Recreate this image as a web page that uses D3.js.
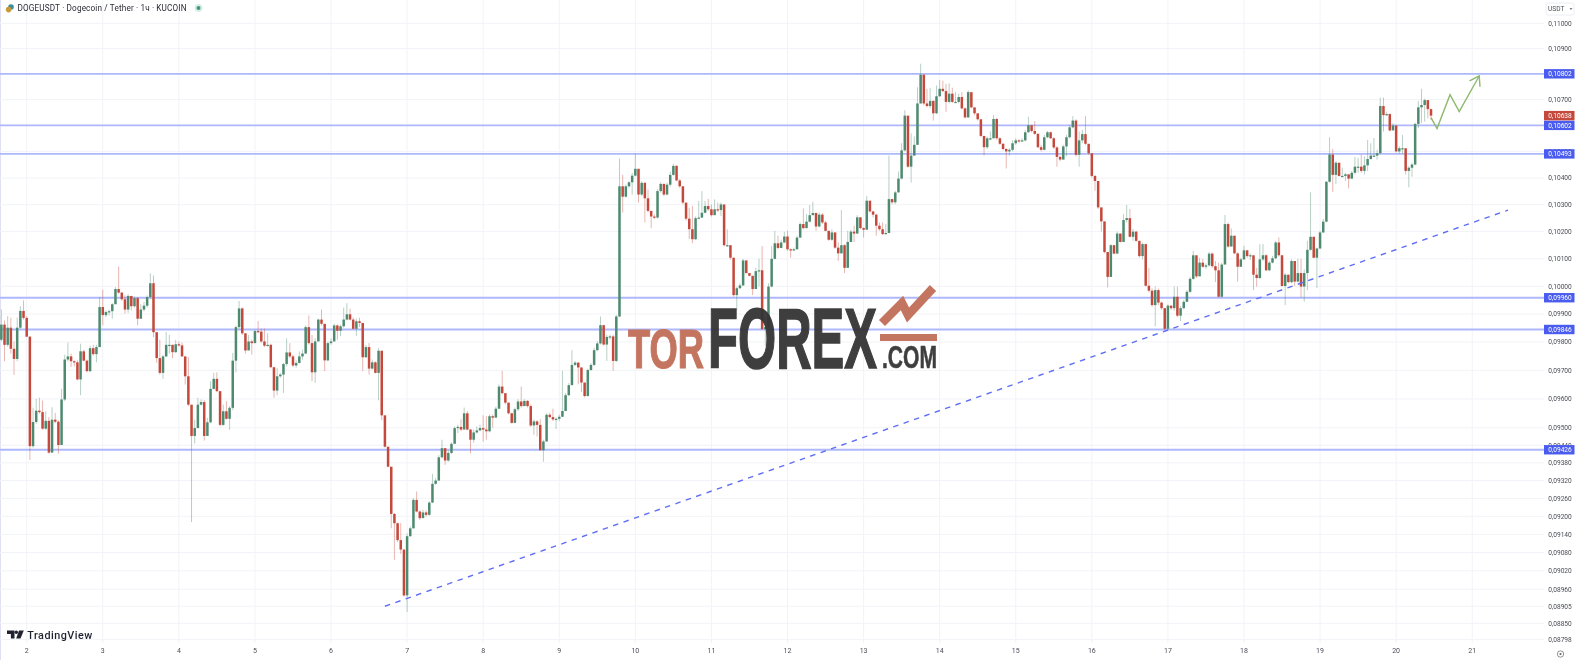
<!DOCTYPE html>
<html><head><meta charset="utf-8">
<style>html,body{margin:0;padding:0;background:#fff;overflow:hidden}svg{display:block;filter:blur(.5px)}text{font-family:Roboto,"Liberation Sans",sans-serif}</style>
<script src="https://cdn.jsdelivr.net/npm/d3@7/dist/d3.min.js"></script>
</head><body><svg id="c" width="1576" height="660"></svg>
<script>
// prices are in units of 0.00001 USDT; one candle per hour, first candle 8 h before day 2 00:00
const firstOpen = 9808;
const firstHour = -8;
const closes = [
9862,9790,9851,9776,9740,9851,9911,9886,9819,9437,9520,9559,9554,9497,9524,9415,9528,9521,9441,9598,
9738,9749,9732,9728,9668,9767,9734,9697,9778,9757,9782,9925,9896,9907,9910,9935,9990,9977,9953,9916,
9965,9928,9957,9883,9916,9930,9961,10011,9835,9743,9691,9749,9790,9790,9764,9792,9788,9749,9679,9580,
9472,9499,9580,9589,9472,9519,9635,9670,9627,9510,9557,9531,9569,9734,9853,9920,9831,9770,9802,9796,
9839,9837,9802,9787,9790,9711,9629,9679,9685,9722,9763,9749,9717,9726,9749,9759,9853,9796,9693,9802,
9880,9865,9735,9796,9802,9859,9840,9856,9880,9899,9880,9847,9874,9868,9746,9782,9706,9728,9691,9769,
9543,9435,9367,
9208,9177,9121,9090,8940,9134,9160,9255,9216,9194,9213,9205,9246,9309,9320,9399,9430,9388,9414,9445,
9499,9503,9494,9550,9494,9459,9484,9491,9499,9494,9488,9540,9535,9566,9643,9620,9587,9550,9517,9564,
9591,9575,9593,9575,9508,9522,9510,9423,9453,9545,9537,9529,9531,9538,9558,9613,9648,9719,9727,9710,
9657,9610,9701,9719,9771,9795,9860,9791,9818,9820,9733,9891,10369,10330,10369,10384,10409,10435,10338,10382,
10324,10277,10256,10252,10351,10378,10338,10375,10412,10446,10391,10369,10308,10248,10209,10172,10250,10252,10270,10295,
10283,10261,10283,10280,10301,10150,10150,10104,9968,9993,10003,10094,10048,10038,9990,10055,10058,9846,
9853,9999,10100,10157,10140,10160,10182,10135,10131,10135,10178,10228,10213,10237,10261,10269,10219,10263,10234,10203,
10170,10197,10141,10120,10150,10067,10162,10200,10193,10253,10213,10207,10315,10275,10263,10222,10209,10191,10195,10321,
10309,10346,10398,10505,10638,10443,10485,10526,10685,10797,10685,10675,10695,10647,10713,10742,10733,10691,10723,10691,
10691,10710,10666,10631,10729,10670,10647,10624,10560,10517,10551,10551,10625,10551,10530,10510,10501,10507,10532,10543,
10539,10543,10574,10601,10579,10568,10517,10507,10555,10574,10551,10516,10480,10470,10520,10555,10593,10619,10488,10543,
10567,10530,10494,10408,10389,10290,
10238,10125,10034,10150,10119,10193,10162,10243,10250,10181,10200,10166,10110,10154,10002,9984,9932,9986,9941,9921,
9847,9930,9921,9962,9894,9921,9944,9980,10027,10113,10036,10086,10071,10076,10119,10073,10058,9962,10079,10228,
10145,10185,10120,10071,10098,10131,10110,10113,10042,10030,10098,10113,10058,10086,10102,10160,10113,10001,10042,10015,
10092,10017,10048,9999,10048,10133,10181,10104,10138,10197,10237,10386,10489,10412,10458,10408,10408,10414,10398,10420,
10443,10443,10427,10448,10472,10485,10485,10494,10675,10640,10644,10581,10600,10501,10513,10513,10427,10439,10451,10606,
10670,10679,10698,10663,10638];
const highs = [
9916,9877,9892,9887,9802,9887,9928,9949,9892,9821,9569,9600,9604,9594,9557,9537,9571,9551,9526,9635,
9755,9798,9759,9735,9735,9794,9773,9738,9787,9790,9790,9961,9987,9913,9916,9939,9997,10072,9979,9967,
9971,9965,9963,9961,9935,9943,9967,10047,10039,9831,9808,9755,9836,9825,9790,9808,9802,9798,9749,9747,
9577,9528,9604,9598,9596,9534,9662,9691,9693,9627,9580,9592,9575,9761,9859,9947,9923,9831,9825,9808,
9844,9875,9848,9848,9831,9794,9708,9708,9691,9726,9813,9796,9755,9735,9767,9773,9859,9895,9825,9813,
9883,9916,9863,9802,9813,9865,9863,9862,9923,9939,9919,9887,9883,9887,9865,9790,9796,9738,9732,9778,
9769,9536,9432,
9362,9211,9179,9177,9082,9143,9166,9261,9283,9220,9222,9220,9250,9343,9328,9407,9459,9430,9423,9450,
9505,9511,9529,9570,9558,9496,9494,9505,9511,9543,9540,9546,9546,9573,9651,9698,9620,9587,9552,9570,
9599,9643,9599,9596,9581,9529,9526,9529,9459,9550,9552,9566,9535,9546,9698,9620,9655,9771,9733,9729,
9710,9657,9706,9725,9780,9803,9891,9861,9826,9826,9826,9897,10474,10412,10375,10388,10419,10493,10433,10388,
10384,10357,10268,10264,10359,10384,10379,10382,10425,10453,10449,10396,10369,10301,10289,10295,10256,10314,10351,10314,
10322,10301,10320,10308,10308,10298,10209,10150,10104,9999,10011,10100,10095,10048,10038,10067,10100,10147,
9860,10011,10147,10203,10185,10170,10199,10203,10138,10141,10185,10234,10286,10265,10299,10311,10271,10271,10269,10240,
10203,10209,10197,10160,10280,10154,10203,10207,10222,10261,10253,10216,10333,10315,10275,10265,10234,10234,10228,10485,
10321,10352,10425,10532,10659,10634,10570,10558,10748,10840,10797,10742,10746,10697,10755,10776,10774,10761,10763,10746,
10729,10723,10729,10670,10736,10723,10666,10640,10619,10560,10558,10577,10640,10630,10555,10532,10513,10513,10545,10551,
10548,10551,10583,10634,10602,10617,10570,10526,10564,10579,10577,10555,10520,10485,10526,10564,10602,10636,10624,10577,
10583,10636,10529,10491,10411,10383,
10284,10234,10117,10154,10150,10200,10191,10265,10299,10284,10210,10203,10166,10160,10156,10067,9992,9999,9992,9944,
9921,9935,9932,9999,9999,9929,9950,9986,10034,10129,10110,10104,10100,10083,10125,10123,10092,10086,10086,10262,
10234,10212,10154,10123,10104,10148,10133,10120,10110,10067,10154,10154,10117,10092,10110,10166,10179,10113,10048,10042,
10098,10092,10100,10100,10061,10166,10346,10181,10141,10203,10247,10389,10555,10510,10464,10455,10439,10420,10414,10427,
10480,10476,10489,10482,10544,10532,10552,10507,10708,10708,10653,10647,10609,10600,10520,10564,10497,10445,10458,10611,
10695,10742,10704,10698,10666];
const lows = [
9802,9732,9784,9759,9684,9732,9847,9880,9817,9390,9432,9514,9549,9493,9493,9411,9414,9516,9411,9446,
9592,9732,9712,9714,9665,9613,9732,9693,9693,9752,9728,9782,9859,9889,9895,9883,9939,9973,9947,9901,
9904,9913,9923,9859,9889,9910,9923,9955,9817,9726,9685,9670,9747,9759,9743,9761,9784,9747,9650,9575,
9181,9446,9499,9577,9456,9472,9516,9633,9623,9505,9507,9528,9493,9561,9693,9847,9825,9759,9773,9755,
9796,9831,9796,9782,9784,9707,9604,9613,9674,9621,9714,9743,9712,9709,9724,9738,9759,9790,9662,9656,
9808,9859,9697,9732,9790,9808,9808,9821,9851,9877,9877,9845,9821,9853,9697,9743,9685,9703,9689,9595,
9526,9432,9365,
9160,9056,9115,9076,8936,8886,9132,9160,9213,9188,9194,9199,9202,9244,9306,9320,9395,9373,9384,9410,
9447,9482,9488,9494,9491,9412,9449,9480,9488,9453,9459,9484,9500,9535,9564,9616,9581,9546,9514,9515,
9558,9570,9575,9570,9503,9476,9470,9421,9384,9453,9533,9523,9496,9523,9538,9558,9610,9648,9715,9651,
9624,9605,9608,9698,9715,9768,9791,9788,9733,9809,9698,9729,9889,10271,10326,10363,10338,10406,10308,10332,
10234,10271,10213,10246,10248,10345,10332,10335,10367,10409,10388,10363,10301,10240,10172,10157,10169,10246,10252,10268,
10277,10256,10264,10273,10258,10145,10145,10098,9962,9913,9989,10001,10046,10036,9968,9997,9999,9844,
9785,9844,9996,10098,10135,10139,10157,10129,10104,10129,10133,10178,10209,10212,10234,10261,10203,10216,10228,10201,
10166,10166,10137,10092,10120,10048,10067,10162,10162,10191,10209,10178,10209,10271,10253,10185,10203,10187,10190,10195,
10302,10302,10346,10395,10501,10439,10383,10485,10526,10685,10678,10670,10666,10619,10644,10710,10729,10653,10685,10687,
10687,10685,10662,10628,10630,10666,10640,10619,10555,10485,10510,10543,10551,10545,10526,10505,10436,10485,10501,10526,
10535,10539,10539,10573,10573,10564,10513,10501,10505,10551,10548,10510,10443,10464,10470,10482,10551,10589,10482,10443,
10532,10526,10488,10402,10352,10284,
10200,10120,9996,10034,10117,10120,10160,10162,10234,10179,10166,10162,10104,10098,9999,9978,9926,9856,9932,9915,
9842,9844,9915,9912,9889,9874,9917,9942,9976,10024,10030,10038,10067,10063,10071,10067,10015,9960,9960,10083,
10141,10148,10117,10017,10071,10096,10104,10096,9986,9999,10026,10092,10055,10055,10083,10098,10108,9999,9932,10011,
10011,10001,10014,9960,9944,9986,10129,10102,9993,10135,10195,10234,10383,10348,10377,10405,10405,10389,10361,10396,
10414,10420,10420,10414,10427,10470,10480,10470,10492,10577,10637,10577,10583,10497,10492,10492,10414,10365,10405,10448,
10590,10609,10615,10628,10621];
const levels = [10802,10602,10493,9960,9846,9426];
const lastPrice = 10638;
const priceTicks = [11000,10900,10800,10700,10600,10500,10400,10300,10200,10100,10000,9900,9800,9700,9600,9500,9440,9380,9320,9260,9200,9140,9080,9020,8960,8905,8850,8798];
const dayTicks = [2,3,4,5,6,7,8,9,10,11,12,13,14,15,16,17,18,19,20,21];
const trendHours = [113,467.3];
const trendPrices = [8905,10280];
const pathHours = [443,444.9,449,451.9,458.2];
const pathPrices = [10630,10588,10719,10654,10792];
const title = "DOGEUSDT · Dogecoin / Tether · 1ч · KUCOIN";

const W=1576,H=660,plotR=1544;
const svg=d3.select("#c");
const x=d3.scaleLinear().domain([0,24*19]).range([26.7,26.7+76.08*19]);
const y=d3.scaleLog().domain([8798,11000]).range([639.6,23.3]);
const fmt=v=>"0,"+String(v).padStart(5,"0");
const dayHour=d=>(d-2)*24;

svg.append("rect").attr("width",W).attr("height",H).attr("fill","#fff");
svg.append("line").attr("x1",.5).attr("x2",.5).attr("y1",0).attr("y2",H).attr("stroke","#dfe1f2");

// grid
svg.append("g").selectAll("line").data(dayTicks).join("line")
 .attr("x1",d=>x(dayHour(d))).attr("x2",d=>x(dayHour(d))).attr("y1",0).attr("y2",643)
 .attr("stroke","#f2f3f8");
svg.append("g").selectAll("line").data(priceTicks).join("line")
 .attr("x1",0).attr("x2",plotR).attr("y1",d=>y(d)).attr("y2",d=>y(d)).attr("stroke","#f2f3f8");

// candles
const candles=closes.map((c,i)=>({h:firstHour+i,o:i?closes[i-1]:firstOpen,c,hi:highs[i],lo:lows[i]}));
const red="#c4483b",green="#4d8a6f";
const col=d=>d.c>=d.o?green:red;

// level lines under the candles
svg.append("g").selectAll("line").data(levels).join("line")
 .attr("x1",0).attr("x2",plotR).attr("y1",d=>y(d)+.4).attr("y2",d=>y(d)+.4)
 .attr("stroke","#aeb8fc").attr("stroke-width",1.8);

const g=svg.append("g");
g.selectAll("line").data(candles).join("line")
 .attr("x1",d=>x(d.h)).attr("x2",d=>x(d.h)).attr("y1",d=>y(d.hi)).attr("y2",d=>y(d.lo))
 .attr("stroke",col).attr("stroke-opacity",.4).attr("stroke-width",1);
g.selectAll("rect").data(candles).join("rect")
 .attr("x",d=>x(d.h)-1.25).attr("width",2.5)
 .attr("y",d=>y(Math.max(d.o,d.c)))
 .attr("height",d=>Math.max(1.2,Math.abs(y(d.o)-y(d.c))))
 .attr("fill",col);

// trend line
svg.append("path").attr("d",d3.line().x((d,i)=>x(trendHours[i])).y(d=>y(d))(trendPrices))
 .attr("fill","none").attr("stroke","#5f6ef4").attr("stroke-width",1.4).attr("stroke-dasharray","5.5 5.5");

// projected path
svg.append("defs").append("marker").attr("id","arr").attr("viewBox","-10 -7 11 14")
 .attr("markerUnits","userSpaceOnUse").attr("markerWidth",11).attr("markerHeight",14).attr("refX",0).attr("refY",0).attr("orient","auto")
 .append("path").attr("d","M-9,-6L0,0L-9,6").attr("fill","none").attr("stroke","#8db96c").attr("stroke-width",1.4);
svg.append("path").attr("d",d3.line().x((d,i)=>x(pathHours[i])).y(d=>y(d))(pathPrices))
 .attr("fill","none").attr("stroke","#8db96c").attr("stroke-width",1.4).attr("marker-end","url(#arr)");

// watermark
const wm=svg.append("g");
const narrow="'Liberation Sans Narrow','Liberation Sans'";
wm.append("text").text("TOR").attr("x",628).attr("y",367.5).attr("textLength",76).attr("lengthAdjust","spacingAndGlyphs")
 .style("font-family",narrow).attr("font-weight",700).attr("font-size",56).attr("fill","#c4755f").attr("stroke","#c4755f").attr("stroke-width",1.2);
wm.append("text").text("FOREX").attr("x",708).attr("y",368).attr("textLength",169).attr("lengthAdjust","spacingAndGlyphs")
 .style("font-family",narrow).attr("font-weight",700).attr("font-size",85).attr("fill","#333").attr("stroke","#333").attr("stroke-width",1.6).attr("opacity",.94);
wm.append("text").text(".COM").attr("x",882).attr("y",368).attr("textLength",55).attr("lengthAdjust","spacingAndGlyphs")
 .style("font-family",narrow).attr("font-weight",700).attr("font-size",31).attr("fill","#333").attr("stroke","#333").attr("stroke-width",.6).attr("opacity",.94);
wm.append("rect").attr("x",880).attr("y",334).attr("width",57).attr("height",7).attr("fill","#c4755f");
wm.append("path").attr("d","M882,323L902,303L908,315L933,288").attr("fill","none").attr("stroke","#c4755f").attr("stroke-width",8.5);

// day labels
svg.append("g").selectAll("text").data(dayTicks).join("text").text(d=>d)
 .attr("x",d=>x(dayHour(d))).attr("y",653).attr("text-anchor","middle").attr("font-size",7).attr("fill","#4a4d57");

// price axis
svg.append("g").selectAll("text").data(priceTicks).join("text").text(fmt)
 .attr("x",1560).attr("y",d=>y(d)+2.3).attr("text-anchor","middle").attr("font-size",6.6).attr("fill","#4a4d57");
const lab=svg.append("g").selectAll("g").data(levels).join("g").attr("transform",d=>`translate(1544,${y(d)+.4})`);
lab.append("rect").attr("x",0).attr("y",-4.7).attr("width",30.5).attr("height",9.4).attr("fill","#4a5cf0");
lab.append("text").text(fmt).attr("x",16).attr("y",2.3).attr("text-anchor","middle").attr("font-size",6.6).attr("fill","#fff");
const lp=svg.append("g").attr("transform",`translate(1544,${y(lastPrice)})`);
lp.append("rect").attr("x",0).attr("y",-4.7).attr("width",30.5).attr("height",9.4).attr("fill","#c4483b");
lp.append("text").text(fmt(lastPrice)).attr("x",16).attr("y",2.3).attr("text-anchor","middle").attr("font-size",6.6).attr("fill","#fff");

// currency button
svg.append("rect").attr("x",1546).attr("y",3).attr("width",28).attr("height",12).attr("rx",2).attr("fill","#fff").attr("stroke","#eceef3");
svg.append("text").text("USDT").attr("x",1548).attr("y",11.2).attr("font-size",6.6).attr("fill","#4a4d57");
svg.append("path").attr("d","M1570,8.5l2,0l-1,1z").attr("fill","#555").attr("stroke","#555").attr("stroke-width",.5);
svg.append("circle").attr("cx",1560.5).attr("cy",654).attr("r",3.2).attr("fill","none").attr("stroke","#666").attr("stroke-width",.7);
svg.append("circle").attr("cx",1560.5).attr("cy",654).attr("r",1.1).attr("fill","#666");

// header
svg.append("circle").attr("cx",11).attr("cy",7).attr("r",2.8).attr("fill","#3f8f9a");
svg.append("circle").attr("cx",8.6).attr("cy",9.6).attr("r",2.8).attr("fill","#c79a3c");
svg.append("text").text(title).attr("x",17.5).attr("y",11.2).attr("font-size",8.2).attr("textLength",169).attr("fill","#2a2d36");
svg.append("circle").attr("cx",198.5).attr("cy",8).attr("r",4).attr("fill","#dbeee6");
svg.append("circle").attr("cx",198.5).attr("cy",8).attr("r",2).attr("fill","#3d9a78");

// logo
const logo=svg.append("g").attr("fill","#1f2230");
logo.append("path").attr("d","M7,630.5h7.5v8h-3.6v-4.6H7z");
logo.append("circle").attr("cx",16.3).attr("cy",632.3).attr("r",1.7);
logo.append("path").attr("d","M19,630.5h4.8l-3.3,8h-4.3z");
logo.append("text").text("TradingView").attr("x",27.3).attr("y",638.5).attr("font-size",10.8).attr("font-weight",500).attr("textLength",65).attr("fill","#1f2230");
</script></body></html>
